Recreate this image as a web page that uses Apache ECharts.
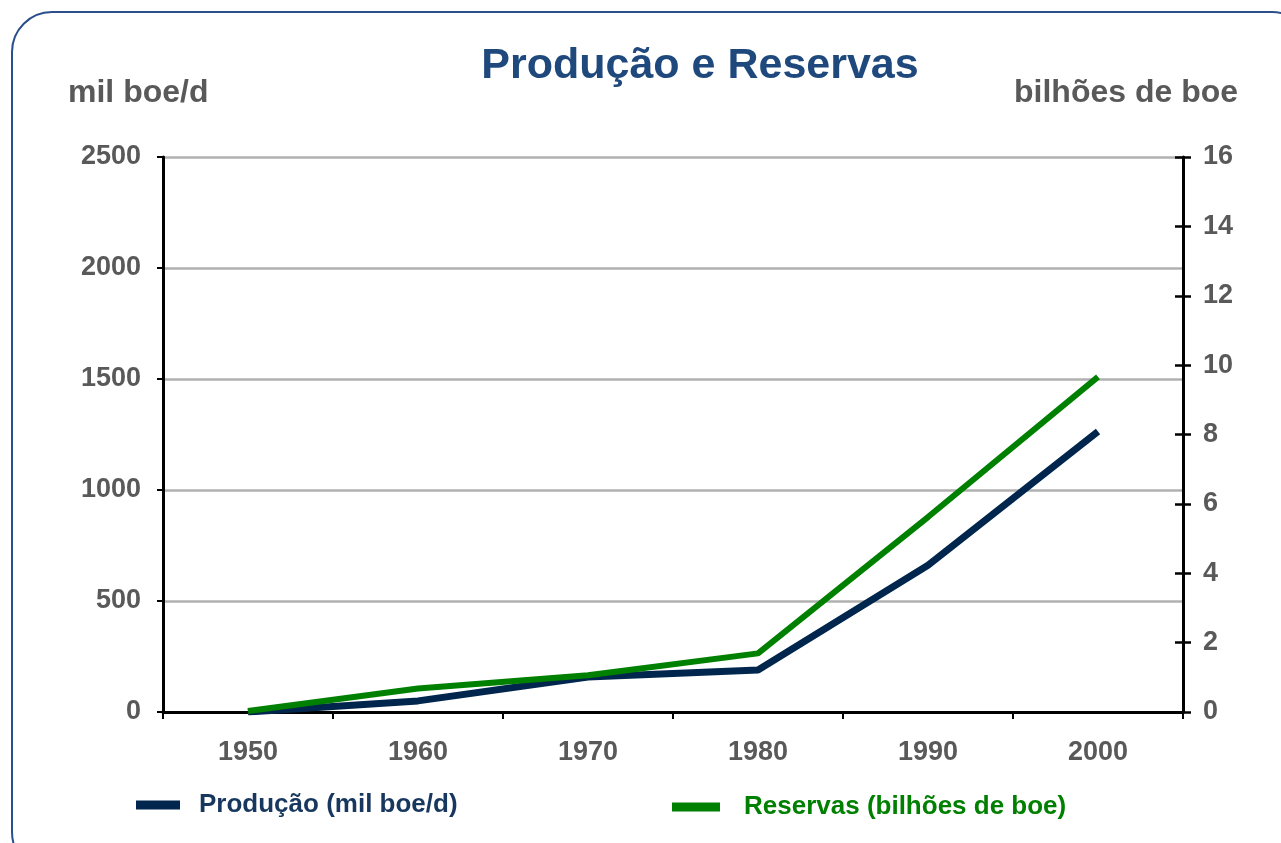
<!DOCTYPE html>
<html><head><meta charset="utf-8">
<script src="https://cdn.jsdelivr.net/npm/echarts@6/dist/echarts.min.js"></script>
<style>html,body{margin:0;padding:0;background:#fff}#c{width:1281px;height:843px}</style>
</head><body><div id="c"></div>
<script>
const categories = ['1950','1960','1970','1980','1990','2000'];
const producao = [0, 50, 158, 189, 661, 1264];
const reservas = [0.03, 0.68, 1.06, 1.69, 5.62, 9.66];
const leftTicks = {min: 0, max: 2500, interval: 500};
const rightTicks = {min: 0, max: 16, interval: 2};
const titleText = 'Produção e Reservas';
const leftName = 'mil boe/d';
const rightName = 'bilhões de boe';
const prodName = 'Produção (mil boe/d)';
const resName = 'Reservas (bilhões de boe)';

const F = '"Liberation Sans", Arial, sans-serif';
const gray = '#595959';
const chart = echarts.init(document.getElementById('c'));
chart.setOption({
  animation: false,
  backgroundColor: '#fff',
  title: {text: titleText, left: 695, textAlign: 'center', top: 40,
    textStyle: {fontFamily: F, fontSize: 43, fontWeight: 'bold', color: '#1f497d'}},
  graphic: [
    {type: 'rect', shape: {x: 12, y: 12, width: 1300, height: 860, r: 40},
     style: {fill: 'none', stroke: '#2a4f8a', lineWidth: 2}, z: -1},
    {type: 'text', left: 68, top: 77, style: {text: leftName, font: 'bold 32px ' + F, fill: gray}},
    {type: 'text', left: 1014, top: 77, style: {text: rightName, font: 'bold 32px ' + F, fill: gray}}
  ],
  grid: {left: 163, right: 98, top: 157, bottom: 131},
  legend: [
    {left: 131, top: 787, itemWidth: 44, itemHeight: 9, icon: 'rect',
     data: [{name: prodName, textStyle: {color: '#17375e'}}],
     formatter: '{p|}{name}', textStyle: {fontFamily: F, fontSize: 26, fontWeight: 'bold', rich: {p: {width: 14}}}},
    {left: 667, top: 789, itemWidth: 48, itemHeight: 9, icon: 'rect',
     data: [{name: resName, textStyle: {color: '#008000'}}],
     formatter: '{p|}{name}', textStyle: {fontFamily: F, fontSize: 26, fontWeight: 'bold', rich: {p: {width: 19}}}}
  ],
  xAxis: {type: 'category', data: categories, boundaryGap: true,
    axisLine: {lineStyle: {color: '#000', width: 3}},
    axisTick: {show: true, length: 7, lineStyle: {color: '#000', width: 2}},
    axisLabel: {margin: 27, fontFamily: F, fontSize: 27, fontWeight: 'bold', color: gray},
    splitLine: {show: false}},
  yAxis: [
    {type: 'value', position: 'left', min: leftTicks.min, max: leftTicks.max, interval: leftTicks.interval,
     axisLine: {show: true, lineStyle: {color: '#000', width: 3}},
     axisTick: {show: true, length: 6, lineStyle: {color: '#000', width: 2}},
     axisLabel: {margin: 22, fontFamily: F, fontSize: 27, fontWeight: 'bold', color: gray,
       formatter: function (v) { return String(v); }},
     splitLine: {show: true, lineStyle: {color: '#b0b0b0', width: 2.5}}},
    {type: 'value', position: 'right', min: rightTicks.min, max: rightTicks.max, interval: rightTicks.interval,
     axisLine: {show: true, lineStyle: {color: '#000', width: 3}},
     axisTick: {show: true, length: 8, lineStyle: {color: '#000', width: 2.5}},
     axisLabel: {margin: 20, fontFamily: F, fontSize: 27, fontWeight: 'bold', color: gray,
       formatter: function (v) { return String(v); }},
     splitLine: {show: false}},
    {type: 'value', position: 'right', min: rightTicks.min, max: rightTicks.max, interval: rightTicks.interval,
     axisLine: {show: false},
     axisTick: {show: true, inside: true, length: 8, lineStyle: {color: '#000', width: 2.5}},
     axisLabel: {show: false}, splitLine: {show: false}}
  ],
  series: [
    {name: prodName, type: 'line', data: producao, yAxisIndex: 0, showSymbol: false, symbol: 'none',
     lineStyle: {color: '#00264d', width: 7}, itemStyle: {color: '#00264d'}, z: 2},
    {name: resName, type: 'line', data: reservas, yAxisIndex: 1, showSymbol: false, symbol: 'none',
     lineStyle: {color: '#008000', width: 6}, itemStyle: {color: '#008000'}, z: 3}
  ]
});
</script></body></html>
